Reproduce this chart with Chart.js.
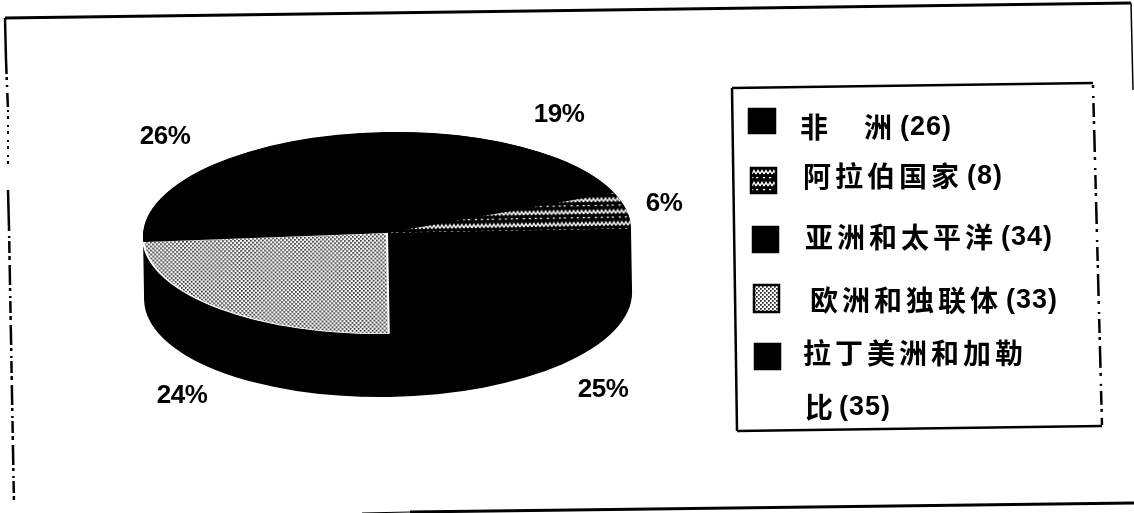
<!DOCTYPE html>
<html><head><meta charset="utf-8">
<style>html,body{margin:0;padding:0;background:#fff}canvas{display:block}</style>
<script src="https://cdn.jsdelivr.net/npm/chart.js@4"></script></head>
<body><canvas id="c" width="1134" height="513"></canvas>
<script>
const categories = ["非　洲","阿拉伯国家","亚洲和太平洋","欧洲和独联体","拉丁美洲和加勒比"];
const values = [26,8,34,33,35];

const INK = '#000000';
const PIE = {cx:387, cy:233, ry:101, depth:63, tilt:-1*Math.PI/180};
const S = PIE.ry/245;

function hatchTile(){
  const t=document.createElement('canvas');t.width=24;t.height=12;
  const g=t.getContext('2d');g.fillStyle=INK;g.fillRect(0,0,24,12);
  g.strokeStyle='#fff';g.lineWidth=1.5;
  for(let x=0;x<24;x+=4){g.beginPath();g.moveTo(x,6);g.lineTo(x+2,2.5);g.lineTo(x+4,6);g.stroke();}
  g.fillStyle='#fff';
  [1,7,12,19].forEach(x=>g.fillRect(x,9,2.2,1.2));
  return t;
}
function dotTile(){
  const t=document.createElement('canvas');t.width=4;t.height=4;
  const g=t.getContext('2d');g.fillStyle='#fff';g.fillRect(0,0,4,4);
  g.fillStyle='#222';g.fillRect(0,0,1.7,1.7);g.fillRect(2,2,1.7,1.7);
  return t;
}
function pat(tile,scaled){
  const p=document.createElement('canvas').getContext('2d').createPattern(tile,'repeat');
  if(scaled) p.setTransform(new DOMMatrix().scale(1,1/S));
  return p;
}
const hTile=hatchTile(), dTile=dotTile();
const fills=[INK,pat(hTile,true),INK,pat(dTile,true),INK];
const edgeColors=[INK,INK,INK,'#ffffff',INK];
const edgeWidths=[0,0,0,2,0];
const swatchFills=[INK,pat(hTile,false),INK,pat(dTile,false),INK];

const squash={id:'squash',
  beforeDatasetDraw(chart,args){
    const ctx=chart.ctx, meta=chart.getDatasetMeta(args.index), a=meta.data[0], r=a.outerRadius;
    ctx.save();
    ctx.translate(PIE.cx,PIE.cy);ctx.rotate(PIE.tilt);
    ctx.fillStyle=INK;
    ctx.beginPath();ctx.ellipse(0,PIE.depth,r,PIE.ry,0,0,Math.PI*2);ctx.fill();
    ctx.fillRect(-r,0,2*r,PIE.depth);
    ctx.beginPath();ctx.ellipse(0,0,r,PIE.ry,0,0,Math.PI*2);ctx.fill();
    ctx.scale(1,S);ctx.translate(-a.x,-a.y);
    meta.controller.draw();
    ctx.restore();
    return false;
  }};

const pctSpots=[[559,115],[664,204],[603,390],[182,396],[165,137]];
const pctLabels={id:'pctLabels',
  afterDraw(chart){
    const ctx=chart.ctx,total=values.reduce((s,v)=>s+v,0);
    ctx.save();ctx.fillStyle=INK;ctx.font='bold 26px "Liberation Sans"';ctx.letterSpacing='-0.5px';
    ctx.textAlign='center';ctx.textBaseline='middle';
    values.forEach((v,i)=>ctx.fillText(Math.round(v/total*100)+'%',pctSpots[i][0],pctSpots[i][1]));
    ctx.restore();
  }};

const swatchBoxes=[[748,108,28,26],[750,167,27,27],[752,226,27,27],[753,284,27,29],[754,343,27,27]];
const textRows=[[800,127],[803,176],[805,237],[810,300],[803,353]];
const wrapAt=7;
const legendPanel={id:'legendPanel',
  afterDraw(chart){
    const ctx=chart.ctx;
    ctx.save();
    ctx.textBaseline='middle';
    const cjk=(s,x,y)=>{ctx.font='700 28px "Noto Sans CJK SC"';ctx.letterSpacing='4px';ctx.fillStyle=INK;ctx.fillText(s,x,y);
      const w=ctx.measureText(s).width;ctx.letterSpacing='0px';return x+w;};
    const num=(s,x,y)=>{ctx.font='bold 27px "Liberation Sans"';ctx.letterSpacing='1px';ctx.fillStyle=INK;ctx.fillText(s,x,y);ctx.letterSpacing='0px';};
    categories.forEach((name,i)=>{
      const b=swatchBoxes[i];
      ctx.fillStyle=swatchFills[i];ctx.fillRect(b[0],b[1],b[2],b[3]);
      ctx.strokeStyle=INK;ctx.lineWidth=2.5;ctx.strokeRect(b[0]+1,b[1]+1,b[2]-2,b[3]-2);
      const [x,y]=textRows[i];
      const tag='('+values[i]+')';
      if(name.length>wrapAt){
        cjk(name.slice(0,wrapAt),x,y);
        const e=cjk(name.slice(wrapAt),x+2,407);
        num(tag,e+2,408);
      }else{
        const e=cjk(name,x,y);
        num(tag,e+4,y+1);
      }
    });
    ctx.restore();
  }};

const solid=[];
const rules=[
  // outer frame
  [[5,18],[1131,3],3,solid],
  [[5,18],[6,60],2.5,solid],
  [[6,60],[8,110],2.5,[14,3,3,5,2,6]],
  [[8,110],[8,170],2,[2,4,3,6]],
  [[8,190],[9,228],2.5,solid],
  [[9,228],[14,505],2.5,[3,5,2,3,12,3,4,5,20,3]],
  [[1131,3],[1133,90],1.5,solid],
  [[362,513],[410,512],1,solid],
  [[410,512],[1134,503],3,solid],
  // legend box
  [[732,88],[1093,83],2.5,solid],
  [[732,88],[737,431],2.5,solid],
  [[737,431],[1102,426],2.5,solid],
  [[1093,85],[1102,425],2.5,[3,8,2,5,14,4,3,6,22,5]]
];
const frame={id:'frame',
  afterDraw(chart){
    const ctx=chart.ctx;ctx.save();ctx.strokeStyle=INK;
    rules.forEach(([a,b,w,d])=>{ctx.lineWidth=w;ctx.setLineDash(d);ctx.beginPath();ctx.moveTo(a[0],a[1]);ctx.lineTo(b[0],b[1]);ctx.stroke();});
    ctx.restore();
  }};

new Chart(document.getElementById('c'),{
  type:'pie',
  data:{labels:categories,datasets:[{data:values,backgroundColor:fills,borderColor:edgeColors,borderWidth:edgeWidths,clip:false}]},
  options:{
    responsive:false,animation:false,
    layout:{padding:{left:142,right:502,top:11,bottom:12}},
    plugins:{legend:{display:false},tooltip:{enabled:false},title:{display:false}}
  },
  plugins:[squash,pctLabels,legendPanel,frame]
});
</script></body></html>
